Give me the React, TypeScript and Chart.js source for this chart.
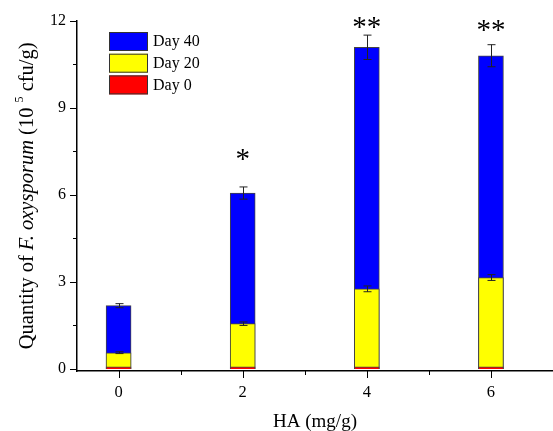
import React, { useEffect, useRef } from "react";
import { Chart, registerables } from "chart.js";

Chart.register(...registerables);

const categories = [0, 2, 4, 6];
const day0 = [0.07, 0.07, 0.07, 0.07];
const day20 = [0.56, 1.56, 2.76, 3.15];
const day40 = [2.18, 6.06, 11.08, 10.79];
const err20 = [0.03, 0.06, 0.1, 0.1];
const err40 = [0.07, 0.21, 0.42, 0.38];
const significance = ["", "*", "**", "**"];
const significanceY = [0, 7.2, 11.73, 11.64];
const yTickValues = [0, 1.5, 3, 4.5, 6, 7.5, 9, 10.5, 12];
const xTickValues = [0, 1, 2, 3, 4, 5, 6];
const seriesNames = ["Day 40", "Day 20", "Day 0"];
const seriesColors = ["#0000ff", "#ffff00", "#ff0000"];

const FONT = "'Liberation Serif', 'Times New Roman', serif";

const overlayPlugin = {
  id: "overlay",
  afterDatasetsDraw(chart: any) {
    const ctx = chart.ctx;
    const xs = chart.scales.x;
    const ys = chart.scales.y;
    const area = chart.chartArea;
    ctx.save();
    // error bars
    ctx.strokeStyle = "#222";
    ctx.lineWidth = 1;
    const drawErr = (vals: number[], errs: number[]) => {
      vals.forEach((v, i) => {
        const px = Math.round(xs.getPixelForValue(categories[i])) + 0.5;
        const top = ys.getPixelForValue(v + errs[i]);
        const bot = ys.getPixelForValue(v - errs[i]);
        ctx.beginPath();
        ctx.moveTo(px, top);
        ctx.lineTo(px, bot);
        ctx.moveTo(px - 4, top);
        ctx.lineTo(px + 4, top);
        ctx.moveTo(px - 4, bot);
        ctx.lineTo(px + 4, bot);
        ctx.stroke();
      });
    };
    drawErr(day40, err40);
    drawErr(day20, err20);

    // significance stars
    ctx.fillStyle = "#000";
    ctx.font = `29px ${FONT}`;
    ctx.textAlign = "center";
    ctx.textBaseline = "middle";
    significance.forEach((s, i) => {
      if (!s) return;
      const px = xs.getPixelForValue(categories[i]);
      const py = ys.getPixelForValue(significanceY[i]);
      ctx.fillText(s, px, py);
    });

    // ticks
    ctx.strokeStyle = "#000";
    ctx.lineWidth = 1;
    yTickValues.forEach((v) => {
      const py = Math.round(ys.getPixelForValue(v)) + 0.5;
      const len = v % 3 === 0 ? 7 : 4;
      ctx.beginPath();
      ctx.moveTo(area.left, py);
      ctx.lineTo(area.left - len, py);
      ctx.stroke();
    });
    xTickValues.forEach((v) => {
      const px = Math.round(xs.getPixelForValue(v)) + 0.5;
      const len = v % 2 === 0 ? 7 : 4;
      ctx.beginPath();
      ctx.moveTo(px, area.bottom);
      ctx.lineTo(px, area.bottom + len);
      ctx.stroke();
    });

    // legend
    const lx = 109;
    let ly = 32;
    ctx.font = `16px ${FONT}`;
    ctx.textAlign = "left";
    ctx.textBaseline = "middle";
    seriesNames.forEach((name, i) => {
      ctx.fillStyle = seriesColors[i];
      ctx.fillRect(lx, ly, 39, 19);
      ctx.strokeStyle = "#333";
      ctx.strokeRect(lx + 0.5, ly + 0.5, 38, 18);
      ctx.fillStyle = "#000";
      ctx.fillText(name, lx + 44, ly + 10);
      ly += 21.7;
    });

    // axis titles
    ctx.font = `19px ${FONT}`;
    ctx.textAlign = "center";
    ctx.textBaseline = "alphabetic";
    ctx.fillText("HA (mg/g)", (area.left + area.right) / 2, 426.5);

    // y title with mixed styles
    ctx.translate(28, (area.top + area.bottom) / 2);
    ctx.rotate(-Math.PI / 2);
    ctx.textBaseline = "middle";
    const parts = [
      { t: "Quantity of ", f: `20.5px ${FONT}`, dy: 0 },
      { t: "F. oxysporum", f: `italic 20.5px ${FONT}`, dy: 0 },
      { t: " (10 ", f: `20.5px ${FONT}`, dy: 0 },
      { t: "5", f: `12px ${FONT}`, dy: -8 },
      { t: " cfu/g)", f: `20.5px ${FONT}`, dy: 0 },
    ];
    let total = 0;
    parts.forEach((p) => {
      ctx.font = p.f;
      total += ctx.measureText(p.t).width;
    });
    let cx = -total / 2;
    ctx.textAlign = "left";
    parts.forEach((p) => {
      ctx.font = p.f;
      ctx.fillText(p.t, cx, p.dy);
      cx += ctx.measureText(p.t).width;
    });
    ctx.restore();
  },
};

export default function App() {
  const ref = useRef<HTMLCanvasElement | null>(null);
  useEffect(() => {
    if (!ref.current) return;
    const mk = (vals: number[]) => vals.map((v, i) => ({ x: categories[i], y: v }));
    const chart = new Chart(ref.current, {
      type: "bar",
      data: {
        datasets: [
          { label: "Day 0", data: mk(day0), backgroundColor: seriesColors[2] },
          { label: "Day 20", data: mk(day20), backgroundColor: seriesColors[1] },
          { label: "Day 40", data: mk(day40), backgroundColor: seriesColors[0] },
        ].map((d) => ({
          ...d,
          borderColor: "#444",
          borderWidth: 1,
          barThickness: 25,
          grouped: false,
        })) as any,
      },
      options: {
        animation: false,
        responsive: false,
        maintainAspectRatio: false,
        layout: { padding: { top: 20, right: 0, left: 0, bottom: 0 } },
        plugins: { legend: { display: false }, tooltip: { enabled: false } },
        scales: {
          x: {
            type: "linear",
            offset: false,
            min: -0.67,
            max: 7,
            afterBuildTicks: (s: any) => {
              s.ticks = xTickValues.map((v) => ({ value: v }));
            },
            afterFit: (s: any) => {
              s.height = 60;
            },
            grid: { display: false, drawTicks: false },
            border: { display: true, color: "#000", width: 1.5 },
            ticks: {
              padding: 12,
              color: "#000",
              font: { family: FONT, size: 16.5 },
              callback: (v: any) => (Number(v) % 2 === 0 ? String(v) : ""),
            },
          },
          y: {
            min: -0.07,
            max: 12,
            afterBuildTicks: (s: any) => {
              s.ticks = yTickValues.map((v) => ({ value: v }));
            },
            afterFit: (s: any) => {
              s.width = 77;
            },
            grid: { display: false, drawTicks: false },
            border: { display: true, color: "#000", width: 1.5 },
            ticks: {
              padding: 11,
              color: "#000",
              font: { family: FONT, size: 16 },
              callback: (v: any) => (Number(v) % 3 === 0 ? String(v) : ""),
            },
          },
        },
      } as any,
      plugins: [overlayPlugin],
    });
    return () => chart.destroy();
  }, []);
  return (
    <div style={{ position: "fixed", left: 0, top: 0, width: 553, height: 431, background: "#fff" }}>
      <canvas ref={ref} width={553} height={431} style={{ width: 553, height: 431 }} />
    </div>
  );
}
